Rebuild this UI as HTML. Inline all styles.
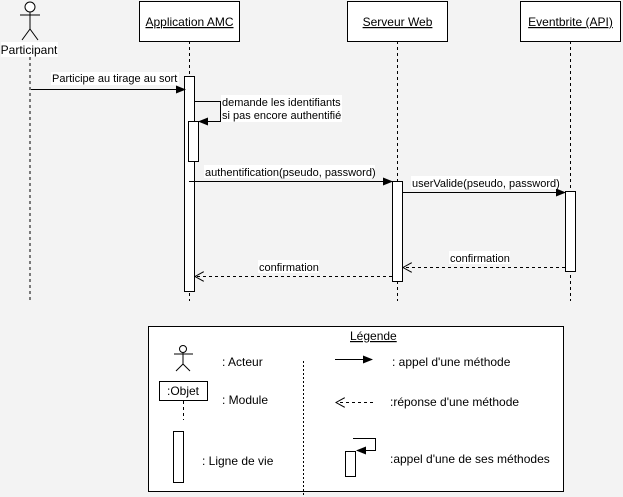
<!DOCTYPE html>
<html><head><meta charset="utf-8"><style>
html,body{margin:0;padding:0;background:#f3f3f3;}
svg{display:block;font-family:"Liberation Sans",sans-serif;font-size:11px;}
</style></head><body>
<svg width="623" height="497" viewBox="0 0 623 497" xmlns="http://www.w3.org/2000/svg">
<defs>
<marker id="f" markerWidth="10" markerHeight="8" refX="9" refY="4" orient="auto" markerUnits="userSpaceOnUse"><path d="M0,0 L10,4 L0,8 z" fill="#000"/></marker>
<marker id="o" markerWidth="10" markerHeight="10" refX="9" refY="5" orient="auto" markerUnits="userSpaceOnUse"><path d="M0,0 L9,5 L0,10" fill="none" stroke="#000"/></marker>
</defs>
<rect width="623" height="497" fill="#f3f3f3"/>
<g stroke="#000" stroke-dasharray="3,3" fill="none">
<line x1="30" y1="57" x2="30" y2="301"/>
<line x1="189.5" y1="41" x2="189.5" y2="301"/>
<line x1="397.5" y1="41" x2="397.5" y2="301"/>
<line x1="570.5" y1="41" x2="570.5" y2="301"/>
</g>
<g stroke="#000" fill="none">
<circle cx="30" cy="7" r="5" fill="#fff"/>
<line x1="30" y1="12" x2="30" y2="29"/>
<line x1="20" y1="15" x2="40" y2="15"/>
<line x1="30" y1="29" x2="22" y2="40"/>
<line x1="30" y1="29" x2="38" y2="40"/>
</g>
<rect x="1" y="42" width="57" height="15" fill="#fff"/>
<text x="29" y="54" text-anchor="middle" font-size="12">Participant</text>
<g fill="#fff" stroke="#000">
<rect x="139.5" y="1.5" width="100" height="40"/>
<rect x="347.5" y="1.5" width="100" height="40"/>
<rect x="520.5" y="1.5" width="100" height="40"/>
</g>
<g font-size="12" text-anchor="middle" text-decoration="underline">
<text x="189.5" y="26">Application AMC</text>
<text x="397.5" y="26">Serveur Web</text>
<text x="570.5" y="26">Eventbrite (API)</text>
</g>
<g fill="#fff" stroke="#000">
<rect x="184.5" y="76.5" width="10" height="215"/>
<rect x="188.5" y="121.5" width="10" height="40"/>
<rect x="392.5" y="181.5" width="10" height="100"/>
<rect x="565.5" y="191.5" width="10" height="80"/>
</g>
<g stroke="#000" fill="none">
<line x1="31" y1="89.5" x2="185" y2="89.5" marker-end="url(#f)"/>
<polyline points="194,101.5 220.5,101.5 220.5,121.5 199,121.5" marker-end="url(#f)"/>
<line x1="189" y1="181.5" x2="392" y2="181.5" marker-end="url(#f)"/>
<line x1="402" y1="192.5" x2="565" y2="192.5" marker-end="url(#f)"/>
<line x1="565" y1="267.5" x2="403" y2="267.5" stroke-dasharray="3,3" marker-end="url(#o)"/>
<line x1="392" y1="276.5" x2="195" y2="276.5" stroke-dasharray="3,3" marker-end="url(#o)"/>
</g>
<g>
<rect x="51" y="72" width="128" height="13" fill="#fff"/>
<text x="52" y="82">Participe au tirage au sort</text>
<rect x="221" y="95" width="121" height="27" fill="#fff"/>
<text x="222" y="106">demande les identifiants</text>
<text x="222" y="119">si pas encore authentifié</text>
<rect x="204" y="165" width="171" height="13" fill="#fff"/>
<text x="205" y="176">authentification(pseudo, password)</text>
<rect x="411" y="176" width="149" height="13" fill="#fff"/>
<text x="412" y="187">userValide(pseudo, password)</text>
<rect x="449" y="251" width="61" height="13" fill="#fff"/>
<text x="450" y="262">confirmation</text>
<rect x="258" y="260" width="61" height="13" fill="#fff"/>
<text x="259" y="271">confirmation</text>
</g>
<rect x="148.5" y="326.5" width="415" height="165" fill="#fff" stroke="#000"/>
<text x="350" y="340" text-decoration="underline" font-size="12">Légende</text>
<line x1="303.5" y1="361" x2="303.5" y2="497" stroke="#000" stroke-dasharray="2,2"/>
<g stroke="#000" fill="none">
<circle cx="183" cy="349" r="3.5"/>
<line x1="183" y1="352" x2="183" y2="364"/>
<line x1="174" y1="354" x2="193" y2="354"/>
<line x1="183" y1="364" x2="176" y2="371"/>
<line x1="183" y1="364" x2="190" y2="371"/>
<rect x="159.5" y="381.5" width="48" height="19" fill="#fff"/>
<line x1="183.5" y1="401" x2="183.5" y2="420" stroke-dasharray="3,3"/>
<rect x="173.5" y="431.5" width="10" height="51" fill="#fff"/>
<line x1="335" y1="359.5" x2="372" y2="359.5" marker-end="url(#f)"/>
<line x1="373" y1="402.5" x2="336" y2="402.5" stroke-dasharray="3,3" marker-end="url(#o)"/>
<rect x="345.5" y="451.5" width="10" height="25" fill="#fff"/>
<polyline points="353,438.5 375.5,438.5 375.5,450.5 357,450.5" marker-end="url(#f)"/>
</g>
<text x="167" y="395" font-size="12">:Objet</text>
<text x="222" y="366" font-size="12">: Acteur</text>
<text x="222" y="404" font-size="12">: Module</text>
<text x="202" y="465" font-size="12">: Ligne de vie</text>
<text x="392" y="366" font-size="12">: appel d'une méthode</text>
<text x="390" y="406" font-size="12">:réponse d'une méthode</text>
<text x="390" y="463" font-size="12">:appel d'une de ses méthodes</text>
</svg>
</body></html>
